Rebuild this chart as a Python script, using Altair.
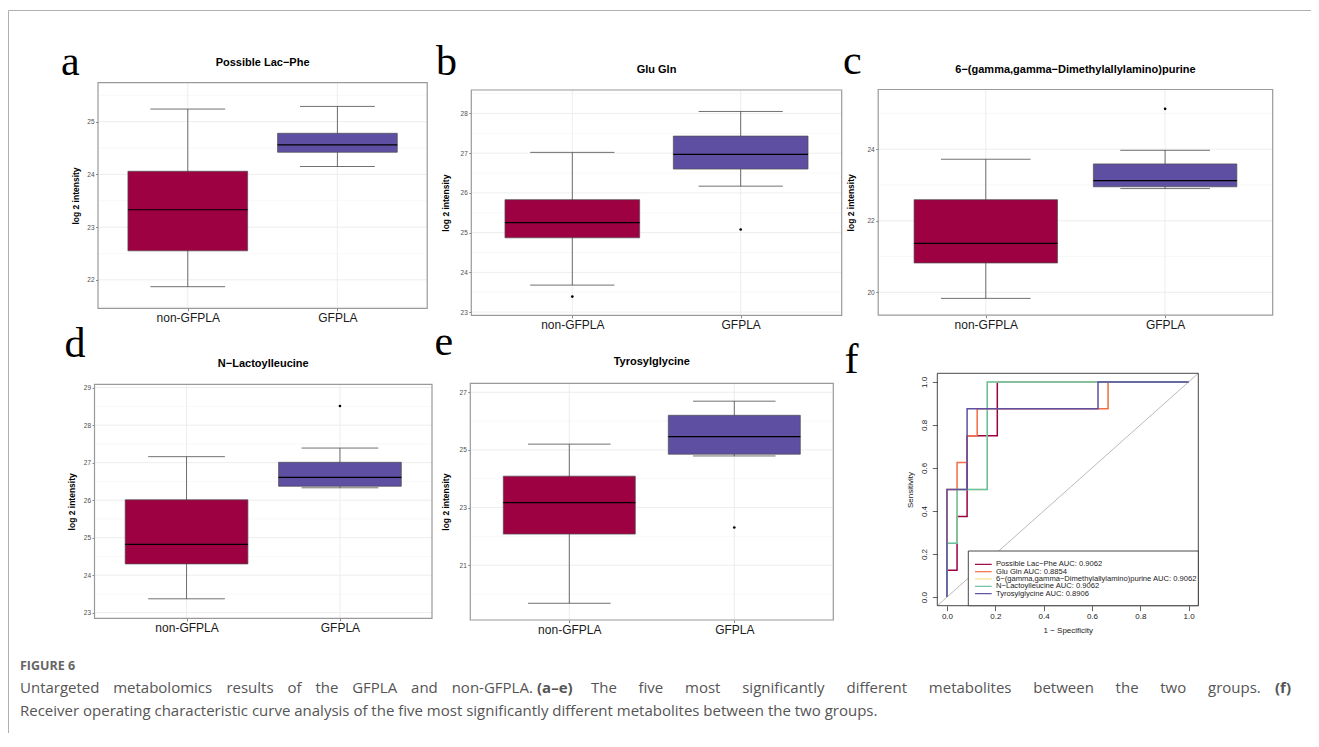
import altair as alt
import pandas as pd

# ---------------- data ----------------
groups = ["non-GFPLA", "GFPLA"]
group_pos = [1, 2]
box_fills = ["#9E0142", "#5E4FA2"]
metabolites = ["Possible Lac−Phe", "Glu Gln", "6−(gamma,gamma−Dimethylallylamino)purine",
               "N−Lactoylleucine", "Tyrosylglycine"]
panel_letters = ["a", "b", "c", "d", "e", "f"]

# five-number summaries per metabolite: [non-GFPLA, GFPLA]
whisker_low = [[21.87, 24.15], [23.68, 26.17], [19.83, 22.90], [23.37, 26.33], [19.68, 24.79]]
quart1 = [[22.55, 24.42], [24.87, 26.60], [20.82, 22.95], [24.30, 26.37], [22.08, 24.85]]
medians = [[23.33, 24.56], [25.25, 26.97], [21.37, 23.12], [24.82, 26.61], [23.17, 25.46]]
quart3 = [[24.06, 24.78], [25.83, 27.43], [22.59, 23.59], [26.01, 27.01], [24.09, 26.20]]
whisker_high = [[25.24, 25.29], [27.02, 28.05], [23.72, 23.97], [27.16, 27.39], [25.20, 26.69]]
outlier_group = [[], [1, 2], [2], [2], [2]]
outlier_value = [[], [23.39, 25.08], [25.13], [28.51], [22.31]]

y_limits = [[21.46, 25.74], [22.92, 28.59], [19.36, 25.67], [22.85, 29.09], [19.10, 27.31]]
y_major = [[22, 23, 24, 25], [23, 24, 25, 26, 27, 28], [20, 22, 24],
           [23, 24, 25, 26, 27, 28, 29], [21, 23, 25, 27]]
y_minor = [[21.5, 22.5, 23.5, 24.5, 25.5], [23.5, 24.5, 25.5, 26.5, 27.5, 28.5], [21, 23, 25],
           [23.5, 24.5, 25.5, 26.5, 27.5, 28.5], [20, 22, 24, 26]]
x_limits = [0.4, 2.6]
box_half = 0.4
cap_half = 0.25

# ROC curves
roc_names = ["Possible Lac−Phe AUC: 0.9062", "Glu Gln AUC: 0.8854",
             "6−(gamma,gamma−Dimethylallylamino)purine AUC: 0.9062",
             "N−Lactoylleucine AUC: 0.9062", "Tyrosylglycine AUC: 0.8906"]
roc_colors = ["#9E0142", "#F46D43", "#FEE08B", "#66C2A5", "#5E4FA2"]
roc_fpr = [
    [0, 0, 0.0417, 0.0417, 0.0833, 0.0833, 0.2083, 0.2083, 1],
    [0, 0, 0.0417, 0.0417, 0.0833, 0.0833, 0.125, 0.125, 0.6667, 0.6667, 1],
    [0, 0, 0.0417, 0.0417, 0.1667, 0.1667, 1],
    [0, 0, 0.0417, 0.0417, 0.1667, 0.1667, 1],
    [0, 0, 0.0833, 0.0833, 0.625, 0.625, 1],
]
roc_tpr = [
    [0, 0.125, 0.125, 0.375, 0.375, 0.75, 0.75, 1, 1],
    [0, 0.5, 0.5, 0.625, 0.625, 0.75, 0.75, 0.875, 0.875, 1, 1],
    [0, 0.25, 0.25, 0.5, 0.5, 1, 1],
    [0, 0.25, 0.25, 0.5, 0.5, 1, 1],
    [0, 0.5, 0.5, 0.875, 0.875, 1, 1],
]
roc_limits = [-0.04, 1.04]
roc_ticks = [0, 0.2, 0.4, 0.6, 0.8, 1.0]

caption_head = "FIGURE 6"
caption_seg1 = ["Untargeted", "metabolomics", "results", "of", "the", "GFPLA", "and", "non-GFPLA."]
caption_bold1 = "(a–e)"
caption_seg3 = ["The", "five", "most", "significantly", "different", "metabolites", "between", "the",
                "two", "groups."]
caption_bold2 = "(f)"
caption_line2 = "Receiver operating characteristic curve analysis of the five most significantly different metabolites between the two groups."

# ---------------- layout (chart pixels) ----------------
W, H = 1303, 725
SANS = "Liberation Sans"
panel_x_px = [[90.0, 419.2], [463.3, 833.7], [870.2, 1264.7], [86.5, 424.0], [462.3, 825.3]]
panel_y_px = [[300.3, 74.7], [307.3, 82.0], [307.2, 81.5], [610.3, 376.3], [612.0, 375.3]]
ytitle_dx = [-23.0, -25.6, -27.5, -23.3, -25.3]
title_base = [58.3, 65.0, 65.0, 359.3, 356.7]
letter_pos = [(53, 67), (428, 67), (835, 66), (56.5, 348.7), (426.5, 347), (836.5, 365.3)]
roc_x_px = [929.3, 1190.3]
roc_y_px = [597.7, 365.3]

ONE = alt.Data(values=[{}])


def text(t, x, y, size, font=SANS, weight="normal", color="black", align="center", baseline="alphabetic"):
    return alt.Chart(ONE).mark_text(text=t, fontSize=size, font=font, fontWeight=weight, color=color,
                                    align=align, baseline=baseline).encode(x=alt.value(x), y=alt.value(y))


def box_panel(i):
    xl, xr = panel_x_px[i]
    yb, yt = panel_y_px[i]
    xs = alt.Scale(domain=x_limits, range=[xl, xr], nice=False, zero=False)
    ys = alt.Scale(domain=y_limits[i], range=[yb, yt], nice=False, zero=False)
    st = pd.DataFrame({"pos": group_pos, "group": groups, "lo": whisker_low[i], "q1": quart1[i],
                       "med": medians[i], "q3": quart3[i], "hi": whisker_high[i]})
    st["bl"] = st["pos"] - box_half
    st["br"] = st["pos"] + box_half
    st["cl"] = st["pos"] - cap_half
    st["cr"] = st["pos"] + cap_half
    minor = pd.DataFrame({"v": y_minor[i], "a": x_limits[0], "b": x_limits[1]})
    major = pd.DataFrame({"v": y_major[i], "a": x_limits[0], "b": x_limits[1]})
    vgrid = pd.DataFrame({"pos": group_pos, "lo": y_limits[i][0], "hi": y_limits[i][1]})
    frame = pd.DataFrame({"a": [x_limits[0]], "b": [x_limits[1]], "lo": [y_limits[i][0]], "hi": [y_limits[i][1]]})

    xaxis = alt.Axis(orient="bottom", offset=yb - H, values=group_pos,
                     labelExpr=f"datum.value == 1 ? '{groups[0]}' : '{groups[1]}'",
                     tickSize=2.5, tickColor="#333333", tickWidth=0.6, labelFont=SANS, labelFontSize=12,
                     labelColor="#1A1A1A", labelPadding=1.5, labelFlush=False, labelOverlap=False,
                     domain=False, grid=False, title=None)
    yaxis = alt.Axis(orient="left", offset=-xl, values=y_major[i], tickSize=2.5, tickColor="#333333",
                     tickWidth=0.6, labelFont=SANS, labelFontSize=6.5, labelColor="#4D4D4D", labelPadding=1.5,
                     labelFlush=False, labelOverlap=False, domain=False, grid=False,
                     title="log 2 intensity", titleFont=SANS, titleFontSize=8.5, titleFontWeight="bold",
                     titleColor="black", titleX=ytitle_dx[i], titleY=(yb + yt) / 2, titleAngle=270,
                     titleAlign="center", titleBaseline="middle")

    def X(f):
        return alt.X(f"{f}:Q", scale=xs, axis=xaxis)

    def Y(f):
        return alt.Y(f"{f}:Q", scale=ys, axis=yaxis)

    layers = [
        alt.Chart(minor).mark_rule(color="#F3F3F3", strokeWidth=0.6).encode(x=X("a"), x2="b", y=Y("v")),
        alt.Chart(major).mark_rule(color="#EBEBEB", strokeWidth=0.9).encode(x=X("a"), x2="b", y=Y("v")),
        alt.Chart(vgrid).mark_rule(color="#EBEBEB", strokeWidth=0.9).encode(x=X("pos"), y=Y("lo"), y2="hi"),
        alt.Chart(st).mark_rule(color="#4D4D4D", strokeWidth=0.8).encode(x=X("pos"), y=Y("lo"), y2="hi"),
        alt.Chart(st).mark_rule(color="#4D4D4D", strokeWidth=0.8).encode(x=X("cl"), x2="cr", y=Y("lo")),
        alt.Chart(st).mark_rule(color="#4D4D4D", strokeWidth=0.8).encode(x=X("cl"), x2="cr", y=Y("hi")),
        alt.Chart(st).mark_rect(stroke="#4D4D4D", strokeWidth=0.7).encode(
            x=X("bl"), x2="br", y=Y("q1"), y2="q3",
            color=alt.Color("group:N", scale=alt.Scale(domain=groups, range=box_fills), legend=None)),
        alt.Chart(st).mark_rule(color="black", strokeWidth=1.2).encode(x=X("bl"), x2="br", y=Y("med")),
    ]
    if outlier_value[i]:
        out = pd.DataFrame({"pos": outlier_group[i], "v": outlier_value[i]})
        layers.append(alt.Chart(out).mark_circle(color="black", size=7, opacity=1).encode(x=X("pos"), y=Y("v")))
    layers.append(alt.Chart(frame).mark_rect(fillOpacity=0, stroke="#9A9A9A", strokeWidth=1.2).encode(
        x=X("a"), x2="b", y=Y("lo"), y2="hi"))
    layers.append(text(metabolites[i], (xl + xr) / 2, title_base[i], 11, weight="bold"))
    return alt.layer(*layers)


def roc_panel():
    xs = alt.Scale(domain=roc_limits, range=roc_x_px, nice=False, zero=False)
    ys = alt.Scale(domain=roc_limits, range=roc_y_px, nice=False, zero=False)
    rows = []
    for k, name in enumerate(roc_names):
        for j, (fx, ty) in enumerate(zip(roc_fpr[k], roc_tpr[k])):
            rows.append({"name": name, "idx": j, "fpr": fx, "tpr": ty})
    curves = pd.DataFrame(rows)
    frame = pd.DataFrame({"a": [roc_limits[0]], "b": [roc_limits[1]]})

    xaxis = alt.Axis(orient="bottom", offset=roc_y_px[0] - H, values=roc_ticks, format=".1f",
                     tickSize=5, tickColor="#222222", tickWidth=0.7, labelFont=SANS, labelFontSize=8,
                     labelColor="#222222", labelPadding=2, labelFlush=False, labelOverlap=False,
                     domain=False, grid=False, title="1 − Specificity", titleFont=SANS, titleFontSize=8,
                     titleFontWeight="normal", titleColor="#222222",
                     titleX=(roc_x_px[0] + roc_x_px[1]) / 2, titleY=25, titleAlign="center",
                     titleBaseline="middle")
    yaxis = alt.Axis(orient="left", offset=-roc_x_px[0], values=roc_ticks, format=".1f",
                     tickSize=5, tickColor="#222222", tickWidth=0.7, labelFont=SANS, labelFontSize=8,
                     labelColor="#222222", labelPadding=4, labelAngle=270, labelAlign="center",
                     labelBaseline="bottom", labelFlush=False, labelOverlap=False, domain=False, grid=False,
                     title="Sensitivity", titleFont=SANS, titleFontSize=8, titleFontWeight="normal",
                     titleColor="#222222", titleX=-27.0, titleY=(roc_y_px[0] + roc_y_px[1]) / 2,
                     titleAngle=270, titleAlign="center", titleBaseline="middle")

    cscale = alt.Scale(domain=roc_names, range=roc_colors)
    X = lambda f: alt.X(f"{f}:Q", scale=xs, axis=xaxis)
    Y = lambda f: alt.Y(f"{f}:Q", scale=ys, axis=yaxis)

    layers = [
        alt.Chart(frame).mark_rule(color="#A8A8A8", strokeWidth=0.8).encode(x=X("a"), x2="b", y=Y("a"), y2="b"),
    ]
    for k, name in enumerate(roc_names):
        layers.append(
            alt.Chart(curves).transform_filter(alt.datum.name == name).mark_line(strokeWidth=1.5).encode(
                x=X("fpr"), y=Y("tpr"), order="idx:Q",
                color=alt.Color("name:N", scale=cscale, legend=None)))
    layers.append(alt.Chart(frame).mark_rect(fillOpacity=0, stroke="#333333", strokeWidth=0.9).encode(
        x=X("a"), x2="b", y=Y("a"), y2="b"))
    return alt.layer(*layers)


def roc_legend():
    leg = pd.DataFrame({"name": roc_names})
    ly = alt.Y("name:N", scale=alt.Scale(domain=roc_names, range=[552.7, 589.3], padding=0), axis=None)
    lc = alt.Color("name:N", scale=alt.Scale(domain=roc_names, range=roc_colors), legend=None)
    box = alt.Chart(ONE).mark_rect(fill="white", stroke="#333333", strokeWidth=0.9).encode(
        x=alt.value(960.3), x2=alt.value(roc_x_px[1]), y=alt.value(543.0), y2=alt.value(roc_y_px[0]))
    lines = alt.Chart(leg).mark_rule(strokeWidth=1.2).encode(
        x=alt.value(967.0), x2=alt.value(983.7), y=ly, color=lc)
    labels = alt.Chart(leg).mark_text(align="left", baseline="middle", font=SANS, fontSize=7.6,
                                      color="#222222").encode(x=alt.value(988.0), y=ly, text="name:N")
    return alt.layer(box, lines, labels)


layers = [box_panel(i) for i in range(5)] + [roc_panel(), roc_legend()]

for (lx, ly), L in zip(letter_pos, panel_letters):
    layers.append(text(L, lx, ly, 42, font="Liberation Serif", align="left"))

# page frame
layers.append(alt.Chart(ONE).mark_rule(color="#B0B0B0", strokeWidth=1).encode(
    x=alt.value(0.5), x2=alt.value(W), y=alt.value(2.5)))
layers.append(alt.Chart(ONE).mark_rule(color="#B0B0B0", strokeWidth=1).encode(
    x=alt.value(0.5), y=alt.value(2.5), y2=alt.value(H)))

# caption (line 1 is justified like the journal layout)
CAP = "Open Sans"
CAP_SIZE = 15
cap_col = "#555555"
OS_W = {"a": .556, "b": .613, "c": .49, "d": .613, "e": .561, "f": .339, "g": .548, "h": .614, "i": .253,
        "l": .253, "m": .93, "n": .614, "o": .604, "p": .613, "r": .408, "s": .477, "t": .353, "u": .614,
        "v": .501, "w": .778, "y": .501, "k": .525, "U": .719, "G": .725, "F": .541, "P": .604, "L": .496,
        "A": .633, "T": .543, "-": .322, ".": .27, "(": .296, ")": .296, "–": .5}


def word_width(w):
    return sum(OS_W.get(ch, .55) for ch in w) * CAP_SIZE


def justify(words, left, right, y):
    widths = [word_width(w) for w in words]
    gap = (right - left - sum(widths)) / (len(widths) - 1)
    out, cx = [], left
    for w, wd in zip(words, widths):
        out.append(text(w, cx, y, CAP_SIZE, font=CAP, color=cap_col, align="left"))
        cx += wd + gap
    return out


LINE1_Y, LINE2_Y = 685, 708
layers += justify(caption_seg1, 12, 525, LINE1_Y)
layers.append(text(caption_bold1, 529, LINE1_Y, CAP_SIZE, font=CAP, weight="bold", color=cap_col, align="left"))
layers += justify(caption_seg3, 583, 1253, LINE1_Y)
layers.append(text(caption_bold2, 1283, LINE1_Y, CAP_SIZE, font=CAP, weight="bold", color=cap_col, align="right"))
layers.append(text(caption_line2, 12, LINE2_Y, CAP_SIZE, font=CAP, color=cap_col, align="left"))
layers.append(text(caption_head, 12, 662, 12.5, font=CAP, weight="bold", color="#666666", align="left"))

chart = alt.layer(*layers).resolve_scale(
    x="independent", y="independent", color="independent"
).properties(
    width=W, height=H, padding=0, autosize=alt.AutoSizeParams(type="none")
).configure_view(strokeWidth=0)

chart.save("out.html", embed_options={"renderer": "svg", "actions": False})
